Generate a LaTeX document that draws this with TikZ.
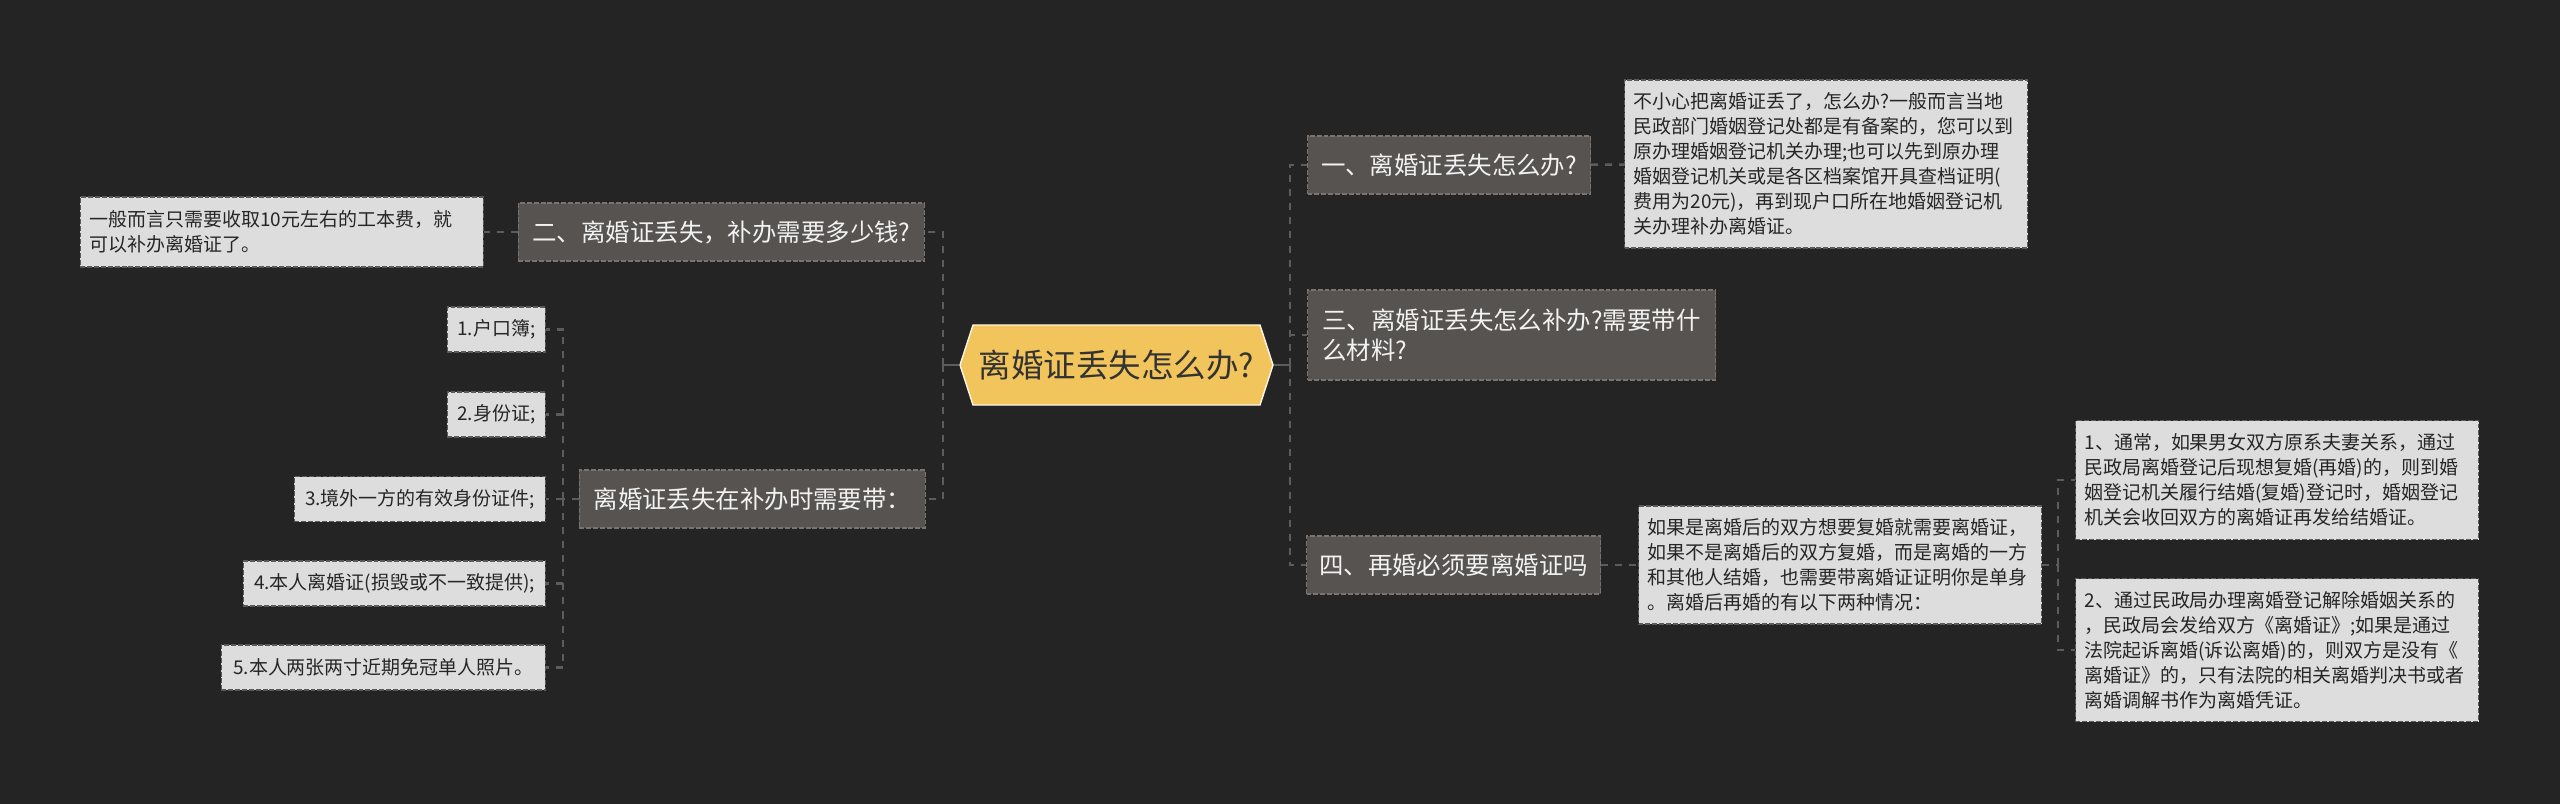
\documentclass[tikz,border=0pt]{standalone}
\usepackage{fontspec}
\usepackage{xcolor}
\usepackage{tikz}
\usetikzlibrary{shapes.symbols}
\newfontfamily\cjk{Noto Sans CJK SC}
\definecolor{bgcol}{RGB}{36,36,36}
\definecolor{hubcol}{RGB}{242,196,92}
\definecolor{branchcol}{RGB}{87,83,80}
\definecolor{branchline}{RGB}{120,116,112}
\definecolor{leafcol}{RGB}{221,221,221}
\definecolor{leafline}{RGB}{90,90,90}
\definecolor{linkcol}{RGB}{92,92,92}

\begin{document}
\begin{tikzpicture}[
  every node/.style = {rectangle, font=\cjk, inner sep=0pt},
  hub/.style    = {signal, signal to=west and east, signal pointer angle=144, fill=hubcol, draw=white!85!hubcol, line width=0.8pt, minimum width=6.26cm, minimum height=1.6cm, text=black!80, font=\cjk\fontsize{18.5}{22}\selectfont},
  branch/.style = {fill=branchcol, draw=branchline, dash pattern=on 2.8pt off 1.1pt, line width=0.6pt, text=white!95!black, align=left, inner xsep=0.24cm, minimum height=1.16cm, font=\cjk\fontsize{13.9}{17}\selectfont},
  leaf/.style   = {fill=leafcol, draw=leafline, dash pattern=on 2.8pt off 1.1pt, line width=0.6pt, text=black!85, align=left, text width=7.7cm, inner xsep=0.18cm, font=\cjk\fontsize{10.8}{14.2}\selectfont},
  item/.style   = {fill=leafcol, draw=leafline, dash pattern=on 2.8pt off 1.1pt, line width=0.6pt, text=black!85, anchor=east, minimum height=0.9cm, font=\cjk\fontsize{10.8}{14.2}\selectfont},
  link/.style   = {draw=linkcol, line width=1.4pt, dash pattern=on 4pt off 4pt},
  stub/.style   = {draw=linkcol, line width=1.4pt},
]
\path[use as bounding box, fill=bgcol] (0,0) rectangle (51.2,-16.08);
% Centre
\node[hub] (hub) at (22.33,-7.30) {离婚证丢失怎么办?};
% Right branches
\node[branch, anchor=west, minimum width=5.66cm] (b1) at (26.14,-3.30) {一、离婚证丢失怎么办?};
\node[branch, anchor=west, minimum width=8.16cm, minimum height=1.8cm] (b3) at (26.14,-6.70) {三、离婚证丢失怎么补办?需要带什\\么材料?};
\node[branch, anchor=west, minimum width=5.88cm] (b4) at (26.12,-11.30) {四、再婚必须要离婚证吗};
% Left branches
\node[branch, anchor=east, minimum width=8.12cm] (b2) at (18.50,-4.64) {二、离婚证丢失，补办需要多少钱?};
\node[branch, anchor=east, minimum width=6.92cm] (b5) at (18.52,-9.98) {离婚证丢失在补办时需要带：};
% Right leaves
\node[leaf, anchor=west, minimum height=3.36cm] (t1) at (32.48,-3.28) {不小心把离婚证丢了，怎么办?一般而言当地\\民政部门婚姻登记处都是有备案的，您可以到\\原办理婚姻登记机关办理;也可以先到原办理\\婚姻登记机关或是各区档案馆开具查档证明(\\费用为20元)，再到现户口所在地婚姻登记机\\关办理补办离婚证。};
\node[leaf, anchor=west, minimum height=2.36cm] (t4) at (32.76,-11.30) {如果是离婚后的双方想要复婚就需要离婚证，\\如果不是离婚后的双方复婚，而是离婚的一方\\和其他人结婚，也需要带离婚证证明你是单身\\。离婚后再婚的有以下两种情况：};
\node[leaf, anchor=west, minimum height=2.38cm] (t4a) at (41.50,-9.60) {1、通常，如果男女双方原系夫妻关系，通过\\民政局离婚登记后现想复婚(再婚)的，则到婚\\姻登记机关履行结婚(复婚)登记时，婚姻登记\\机关会收回双方的离婚证再发给结婚证。};
\node[leaf, anchor=west, minimum height=2.86cm] (t4b) at (41.50,-13.00) {2、通过民政局办理离婚登记解除婚姻关系的\\，民政局会发给双方《离婚证》;如果是通过\\法院起诉离婚(诉讼离婚)的，则双方是没有《\\离婚证》的，只有法院的相关离婚判决书或者\\离婚调解书作为离婚凭证。};
% Left leaves
\node[leaf, anchor=east, minimum height=1.40cm] (t2) at (9.68,-4.64) {一般而言只需要收取10元左右的工本费，就\\可以补办离婚证了。};
\node[item, minimum width=1.96cm] (m1) at (10.92,-6.59) {1.户口簿;};
\node[item, minimum width=1.96cm] (m2) at (10.92,-8.29) {2.身份证;};
\node[item, minimum width=5.02cm] (m3) at (10.92,-9.98) {3.境外一方的有效身份证件;};
\node[item, minimum width=6.04cm] (m4) at (10.92,-11.67) {4.本人离婚证(损毁或不一致提供);};
\node[item, minimum width=6.48cm] (m5) at (10.92,-13.35) {5.本人两张两寸近期免冠单人照片。};
% Junctions
\coordinate (lj) at (18.86,-7.30);
\coordinate (rj) at (25.80,-7.30);
\coordinate (sl) at (11.26,-9.98);
\coordinate (sr) at (41.16,-11.30);
% Centre to trunks
\draw[stub] (hub.west) -- (lj);
\draw[stub] (hub.east) -- (rj);
\draw[link] (lj) |- (b2.east);
\draw[link] (lj) |- (b5.east);
\draw[link] (rj) |- (b1.west);
\draw[link] (rj) |- (b3.west);
\draw[link] (rj) |- (b4.west);
% Branches to leaves
\draw[link] (b1) -- (t1);
\draw[link] (b4) -- (t4);
\draw[link] (b2) -- (t2);
\draw[link] (t4.east) -- (sr);
\draw[link] (sr) |- (t4a.west);
\draw[link] (sr) |- (t4b.west);
\draw[link] (b5.west) -- (sl);
\foreach \i in {1,...,5}
  \draw[link] (sl) |- (m\i.east);
\end{tikzpicture}
\end{document}
